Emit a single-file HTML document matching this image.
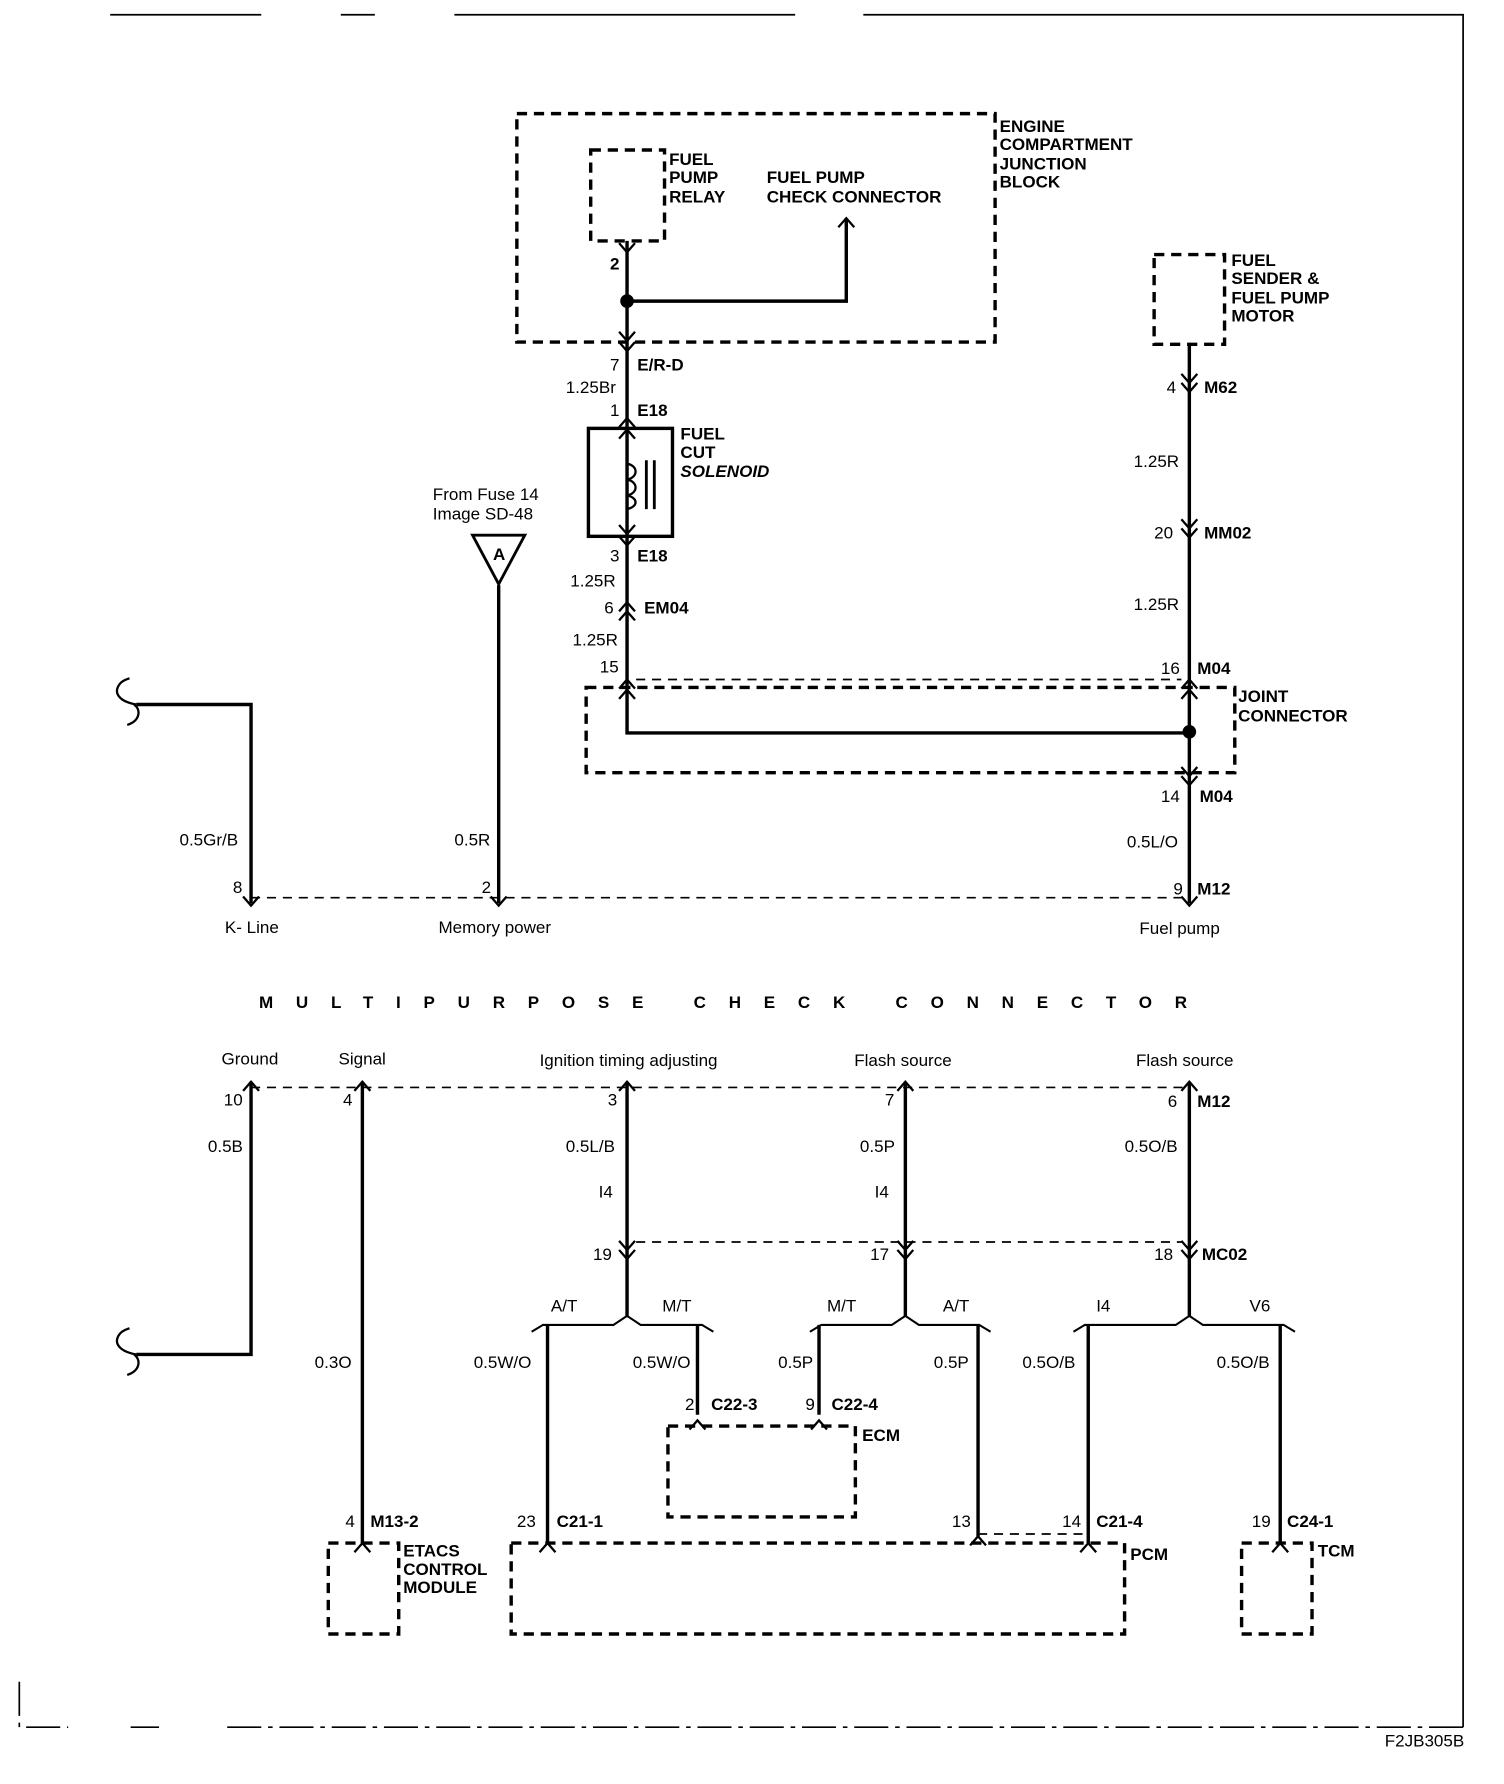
<!DOCTYPE html>
<html><head><meta charset="utf-8"><style>
html,body{margin:0;padding:0;background:#fff;}
svg{display:block;}
text{font-family:"Liberation Sans",sans-serif;font-size:15px;fill:#000;}
.b{font-weight:bold;}
</style></head><body>
<svg width="1504" height="1784" viewBox="0 0 1324 1570" preserveAspectRatio="none" xmlns="http://www.w3.org/2000/svg">
<defs>
<path id="dn" d="M-7,-8 L0,0 L7,-8" fill="none" stroke="#000" stroke-width="2"/>
<path id="up" d="M-7,8 L0,0 L7,8" fill="none" stroke="#000" stroke-width="2"/>
</defs>
<g fill="none" stroke="#000">
<!-- frame -->
<path d="M97,13 H230 M300,13 H330 M400,13 H700 M760,13 H1288 V1520" stroke-width="1.5"/>
<path d="M17,1480 V1520 H60 M115,1520 H140 M200,1520 H1288" stroke-width="1.5" stroke-dasharray="30 6 4 6"/>
<!-- dashed boxes -->
<g stroke-width="3" stroke-dasharray="9 6">
<rect x="455" y="100" width="421" height="201"/>
<rect x="520" y="132" width="65" height="80"/>
<rect x="1016" y="224" width="62" height="79"/>
<rect x="516" y="605" width="571" height="75"/>
<rect x="588" y="1255" width="165" height="80"/>
<rect x="289" y="1358" width="62" height="80"/>
<rect x="450" y="1358" width="540" height="80"/>
<rect x="1093" y="1358" width="62" height="80"/>
</g>
<g stroke-width="1.5" stroke-dasharray="8 6">
<path d="M560,598 H1040"/>
<path d="M221,790 H1047"/>
<path d="M221,957 H1047"/>
<path d="M560,1093 H1040"/>
<path d="M861,1350 H958"/>
</g>
<!-- wires -->
<g stroke-width="3">
<path d="M552,212 V645 H1047"/>
<path d="M552,265 H745 V192"/>
<path d="M1047,303 V795"/>
<path d="M120,620 H221 V795"/>
<path d="M439,515 V795"/>
<path d="M221,952 V1192 H120"/>
<path d="M319,952 V1358"/>
<path d="M552,952 V1158"/>
<path d="M797,952 V1158"/>
<path d="M1047,952 V1158"/>
<path d="M482,1166 V1358"/>
<path d="M614,1166 V1245"/>
<path d="M721,1166 V1245"/>
<path d="M861,1166 V1352"/>
<path d="M958,1166 V1358"/>
<path d="M1127,1166 V1358"/>
</g>
<!-- branch shoulders -->
<g stroke-width="1.8">
<path d="M468,1172 L478,1166 H540 L552,1158 L564,1166 H618 L628,1172"/>
<path d="M713,1172 L723,1166 H785 L797,1158 L809,1166 H862 L872,1172"/>
<path d="M945,1172 L955,1166 H1035 L1047,1158 L1059,1166 H1130 L1140,1172"/>
</g>
<!-- curly ends -->
<path d="M120,620 C108,618 100,612 104,604 C106,600 110,598 114,597 M118,620 C124,624 124,634 112,638" stroke-width="2"/>
<path d="M120,1192 C108,1190 100,1184 104,1176 C106,1172 110,1170 114,1169 M118,1192 C124,1196 124,1206 112,1210" stroke-width="2"/>
<!-- solenoid -->
<rect x="518" y="377" width="74" height="95" stroke-width="3"/>
<path d="M552,378 V408 C562,410 562,420 552,422 C562,424 562,434 552,436 C562,438 562,446 552,448 V470" stroke-width="2"/>
<path d="M569,405 V448 M576,405 V448" stroke-width="2.5"/>
<!-- triangle A -->
<path d="M416,471 H462 L439,514 Z" stroke-width="2.5"/>
</g>
<circle cx="552" cy="265" r="6"/>
<circle cx="1047" cy="644" r="6"/>
<!-- connector chevrons -->
<use href="#dn" x="552" y="222"/>
<use href="#up" x="745" y="192"/>
<use href="#dn" x="552" y="300"/><use href="#dn" x="552" y="309"/>
<use href="#up" x="552" y="368"/><use href="#up" x="552" y="378"/>
<use href="#dn" x="552" y="470"/><use href="#dn" x="552" y="480"/>
<use href="#up" x="552" y="530"/><use href="#up" x="552" y="538"/>
<use href="#up" x="552" y="598"/><use href="#up" x="552" y="607"/>
<use href="#dn" x="1047" y="337"/><use href="#dn" x="1047" y="345"/>
<use href="#dn" x="1047" y="465"/><use href="#dn" x="1047" y="473"/>
<use href="#up" x="1047" y="598"/><use href="#up" x="1047" y="607"/>
<use href="#dn" x="1047" y="683"/><use href="#dn" x="1047" y="691"/>
<use href="#dn" x="221" y="797"/><use href="#dn" x="439" y="797"/><use href="#dn" x="1047" y="797"/>
<use href="#up" x="221" y="952"/><use href="#up" x="319" y="952"/><use href="#up" x="552" y="952"/><use href="#up" x="797" y="952"/><use href="#up" x="1047" y="952"/>
<use href="#dn" x="552" y="1100"/><use href="#dn" x="552" y="1108"/>
<use href="#dn" x="797" y="1100"/><use href="#dn" x="797" y="1108"/>
<use href="#dn" x="1047" y="1100"/><use href="#dn" x="1047" y="1108"/>
<use href="#up" x="614" y="1250"/><use href="#up" x="721" y="1250"/>
<use href="#up" x="319" y="1358"/><use href="#up" x="482" y="1358"/><use href="#up" x="861" y="1352"/><use href="#up" x="958" y="1358"/><use href="#up" x="1127" y="1358"/>
<!-- bold labels -->
<g class="b">
<text x="880" y="116">ENGINE</text><text x="880" y="132">COMPARTMENT</text><text x="880" y="149">JUNCTION</text><text x="880" y="165">BLOCK</text>
<text x="589" y="145">FUEL</text><text x="589" y="161">PUMP</text><text x="589" y="178">RELAY</text>
<text x="675" y="161">FUEL PUMP</text><text x="675" y="178">CHECK CONNECTOR</text>
<text x="1084" y="234">FUEL</text><text x="1084" y="250">SENDER &amp;</text><text x="1084" y="267">FUEL PUMP</text><text x="1084" y="283">MOTOR</text>
<text x="599" y="387">FUEL</text><text x="599" y="403">CUT</text><text x="599" y="420" font-style="italic">SOLENOID</text>
<text x="1090" y="618">JOINT</text><text x="1090" y="635">CONNECTOR</text>
<text x="561" y="326">E/R-D</text><text x="561" y="366">E18</text><text x="561" y="494">E18</text><text x="567" y="540">EM04</text>
<text x="1060" y="346">M62</text><text x="1060" y="474">MM02</text><text x="1054" y="593">M04</text><text x="1056" y="706">M04</text><text x="1054" y="787">M12</text>
<text x="1054" y="974">M12</text><text x="1058" y="1109">MC02</text>
<text x="626" y="1241">C22-3</text><text x="732" y="1241">C22-4</text><text x="759" y="1268">ECM</text>
<text x="326" y="1344">M13-2</text><text x="490" y="1344">C21-1</text><text x="965" y="1344">C21-4</text><text x="1133" y="1344">C24-1</text>
<text x="355" y="1370">ETACS</text><text x="355" y="1386">CONTROL</text><text x="355" y="1402">MODULE</text>
<text x="995" y="1373">PCM</text><text x="1160" y="1370">TCM</text>
<text x="228" y="887" font-size="20" textLength="817" lengthAdjust="spacing">MULTIPURPOSE  CHECK  CONNECTOR</text>
<text x="434" y="493">A</text>
</g>
<!-- normal labels -->
<text x="537" y="237" class="b">2</text>
<text x="537" y="326">7</text><text x="498" y="346">1.25Br</text><text x="537" y="366">1</text>
<text x="537" y="494">3</text><text x="502" y="516">1.25R</text><text x="532" y="540">6</text><text x="504" y="568">1.25R</text><text x="528" y="592">15</text>
<text x="1027" y="346">4</text><text x="998" y="411">1.25R</text><text x="1016" y="474">20</text><text x="998" y="537">1.25R</text><text x="1022" y="593">16</text>
<text x="1022" y="706">14</text><text x="992" y="746">0.5L/O</text><text x="1033" y="787">9</text><text x="1003" y="822">Fuel pump</text>
<text x="381" y="440">From Fuse 14</text><text x="381" y="457">Image SD-48</text>
<text x="158" y="744">0.5Gr/B</text><text x="205" y="786">8</text><text x="198" y="821">K- Line</text>
<text x="400" y="744">0.5R</text><text x="424" y="786">2</text><text x="386" y="821">Memory power</text>
<text x="195" y="937">Ground</text><text x="298" y="937">Signal</text><text x="475" y="938">Ignition timing adjusting</text><text x="752" y="938">Flash source</text><text x="1000" y="938">Flash source</text>
<text x="197" y="973">10</text><text x="302" y="973">4</text><text x="535" y="973">3</text><text x="779" y="973">7</text><text x="1028" y="974">6</text>
<text x="183" y="1014">0.5B</text><text x="498" y="1014">0.5L/B</text><text x="757" y="1014">0.5P</text><text x="990" y="1014">0.5O/B</text>
<text x="527" y="1054">I4</text><text x="770" y="1054">I4</text>
<text x="522" y="1109">19</text><text x="766" y="1109">17</text><text x="1016" y="1109">18</text>
<text x="485" y="1154">A/T</text><text x="583" y="1154">M/T</text><text x="728" y="1154">M/T</text><text x="830" y="1154">A/T</text><text x="965" y="1154">I4</text><text x="1100" y="1154">V6</text>
<text x="277" y="1204">0.3O</text><text x="417" y="1204">0.5W/O</text><text x="557" y="1204">0.5W/O</text><text x="685" y="1204">0.5P</text><text x="822" y="1204">0.5P</text><text x="900" y="1204">0.5O/B</text><text x="1071" y="1204">0.5O/B</text>
<text x="603" y="1241">2</text><text x="709" y="1241">9</text>
<text x="304" y="1344">4</text><text x="455" y="1344">23</text><text x="838" y="1344">13</text><text x="935" y="1344">14</text><text x="1102" y="1344">19</text>
<text x="1219" y="1537" font-size="13">F2JB305B</text>
</svg>
</body></html>
